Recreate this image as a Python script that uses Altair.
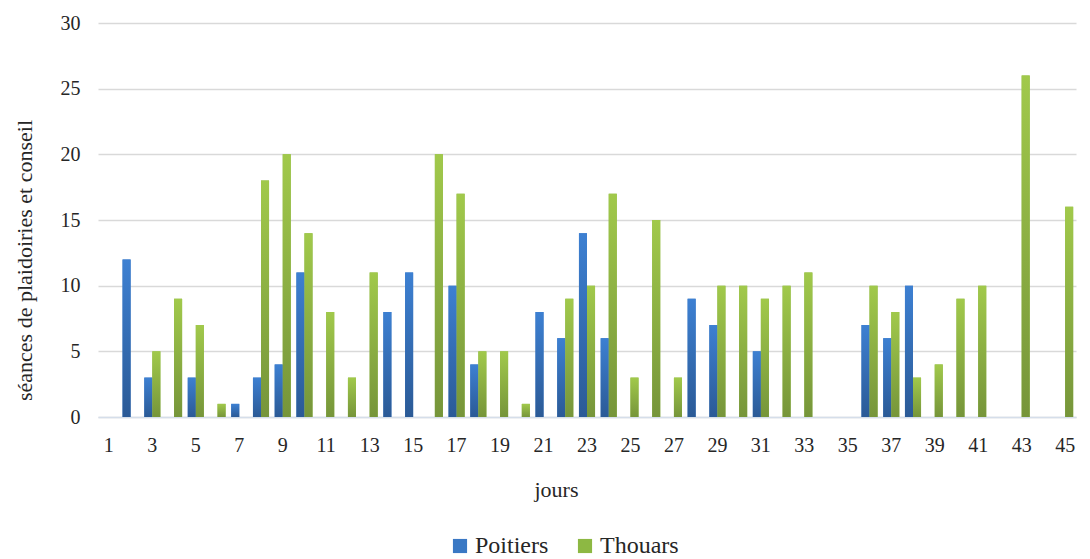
import altair as alt
import pandas as pd

days = list(range(1, 46))
poitiers = [0, 12, 3, 0, 3, 0, 1, 3, 4, 11,
            0, 0, 0, 8, 11, 0, 10, 4, 0, 0,
            8, 6, 14, 6, 0, 0, 0, 9, 7, 0,
            5, 0, 0, 0, 0, 7, 6, 10, 0, 0,
            0, 0, 0, 0, 0]
thouars = [0, 0, 5, 9, 7, 1, 0, 18, 20, 14,
           8, 3, 11, 0, 0, 20, 17, 5, 5, 1,
           0, 9, 10, 17, 3, 15, 3, 0, 10, 10,
           9, 10, 11, 0, 0, 10, 8, 3, 4, 9,
           10, 0, 26, 0, 16]
series = ["Poitiers", "Thouars"]
colors = ["#3A78C4", "#8DB843"]
odd_days = [d for d in days if d % 2 == 1]

rows = []
for d, p, t in zip(days, poitiers, thouars):
    rows.append({"jour": d, "ville": "Poitiers", "v": p})
    rows.append({"jour": d, "ville": "Thouars", "v": t})
df = pd.DataFrame(rows)

FONT = "'Liberation Serif', 'Times New Roman', serif"
TXT = "#262626"

x = alt.X("jour:O", sort=days, title="jours",
          scale=alt.Scale(paddingInner=0.26, paddingOuter=0.13),
          axis=alt.Axis(values=odd_days, labelAngle=0, ticks=False,
                        domainColor="#d5deea", domainWidth=1.5,
                        labelFont=FONT, titleFont=FONT,
                        labelFontSize=20, labelPadding=18,
                        titleFontSize=22, titlePadding=24, titleFontWeight="normal",
                        titleX=458,
                        labelColor=TXT, titleColor=TXT))
y = alt.Y("v:Q", title="séances de plaidoiries et conseil",
          scale=alt.Scale(domain=[0, 30]),
          axis=alt.Axis(values=[0, 5, 10, 15, 20, 25, 30], domain=False, ticks=False,
                        gridColor="#d9d9d9", gridWidth=1.5,
                        labelFont=FONT, titleFont=FONT,
                        labelFontSize=20, labelPadding=18,
                        titleFontSize=22, titlePadding=24, titleFontWeight="normal",
                        titleY=237,
                        labelColor=TXT, titleColor=TXT))
xo = alt.XOffset("ville:N", sort=series, scale=alt.Scale(domain=series))

base = alt.Chart(df)

legend_layer = base.mark_bar().encode(
    x=x, y=y, xOffset=xo,
    color=alt.Color("ville:N", sort=series,
                    scale=alt.Scale(domain=series, range=colors),
                    legend=alt.Legend(title=None, orient="none", direction="horizontal",
                                      legendX=350, legendY=511,
                                      symbolType="square", symbolSize=200,
                                      labelFont=FONT, labelFontSize=24, labelColor=TXT,
                                      symbolOffset=0, labelOffset=3,
                                      columnPadding=24))
)

def grad(top, bottom):
    return alt.Gradient(gradient="linear",
                        stops=[alt.GradientStop(color=top, offset=0),
                               alt.GradientStop(color=bottom, offset=1)],
                        x1=0, x2=0, y1=0, y2=1)

blue_layer = base.transform_filter(alt.datum.ville == "Poitiers").mark_bar(
    fill=grad("#3D80D2", "#2B5A96")).encode(x=x, y=y, xOffset=xo)
green_layer = base.transform_filter(alt.datum.ville == "Thouars").mark_bar(
    fill=grad("#A1C94B", "#76953A")).encode(x=x, y=y, xOffset=xo)

chart = alt.layer(legend_layer, blue_layer, green_layer).properties(
    width=978, height=394,
    padding={"left": 5, "top": 5, "right": 2, "bottom": 0}
).configure(font=FONT).configure_view(stroke=None).configure_legend(
    labelFont=FONT, titleFont=FONT
).configure_axis(labelFont=FONT, titleFont=FONT)

chart.save("out.html", embed_options={"renderer": "svg", "actions": False})
